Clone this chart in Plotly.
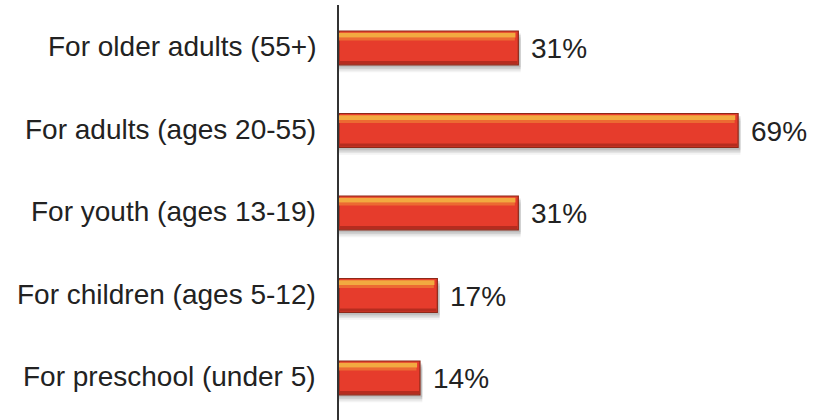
import plotly.graph_objects as go

categories = ["For older adults (55+)", "For adults (ages 20-55)", "For youth (ages 13-19)",
              "For children (ages 5-12)", "For preschool (under 5)"]
values = [31, 69, 31, 17, 14]
value_labels = ["31%", "69%", "31%", "17%", "14%"]

pos = list(range(len(categories)))
FONT = "Liberation Sans, Arial, sans-serif"
W = 0.41

fig = go.Figure()

# soft shadow layers below bars
for dy, alpha in [(0.09, 0.07), (0.07, 0.10), (0.05, 0.14), (0.03, 0.16)]:
    fig.add_trace(go.Bar(
        x=[v + 0.4 for v in values], y=pos, orientation="h",
        offset=-W / 2 + dy, width=W,
        marker=dict(color=f"rgba(90,90,90,{alpha})", line=dict(width=0)),
        hoverinfo="skip", showlegend=False))

# main bars
fig.add_trace(go.Bar(
    x=values, y=pos, orientation="h", offset=-W / 2, width=W,
    marker=dict(color="#e63c2c", line=dict(color="#8e2818", width=1.2)),
    showlegend=False))

# bottom darker band
fig.add_trace(go.Bar(
    x=[v - 0.15 for v in values], y=pos, orientation="h", offset=W / 2 - 0.045, width=0.035,
    marker=dict(color="#b52c1f", line=dict(width=0)),
    hoverinfo="skip", showlegend=False))

# top highlight bands (gradient-like)
fig.add_trace(go.Bar(
    x=[v - 0.6 for v in values], y=pos, orientation="h", offset=-W / 2 + 0.075, width=0.04,
    marker=dict(color="#ec6a32", line=dict(width=0)),
    hoverinfo="skip", showlegend=False))
fig.add_trace(go.Bar(
    x=[v - 0.5 for v in values], y=pos, orientation="h", offset=-W / 2 + 0.02, width=0.06,
    marker=dict(color="#f2aa40", line=dict(width=0)),
    hoverinfo="skip", showlegend=False))

annotations = []
for i, (c, v, t) in enumerate(zip(categories, values, value_labels)):
    annotations.append(dict(x=0, y=i, xref="x", yref="y", text=c, showarrow=False,
                            xanchor="right", yanchor="middle", xshift=-21, yshift=1,
                            font=dict(family=FONT, size=28, color="#222222")))
    annotations.append(dict(x=v, y=i, xref="x", yref="y", text=t, showarrow=False,
                            xanchor="left", yanchor="middle", xshift=11, yshift=-1,
                            font=dict(family=FONT, size=28, color="#222222")))

fig.update_layout(
    width=822, height=420,
    margin=dict(l=339, r=0, t=5, b=0),
    paper_bgcolor="white", plot_bgcolor="white",
    barmode="overlay",
    xaxis=dict(range=[0, 83.5], showgrid=False, zeroline=False, showticklabels=False,
               showline=False, fixedrange=True),
    yaxis=dict(range=[4.51, -0.52], showgrid=False, zeroline=False, showticklabels=False,
               showline=True, linecolor="#333333", linewidth=2, ticks="", fixedrange=True),
    annotations=annotations,
)

fig.write_html("out.html")
